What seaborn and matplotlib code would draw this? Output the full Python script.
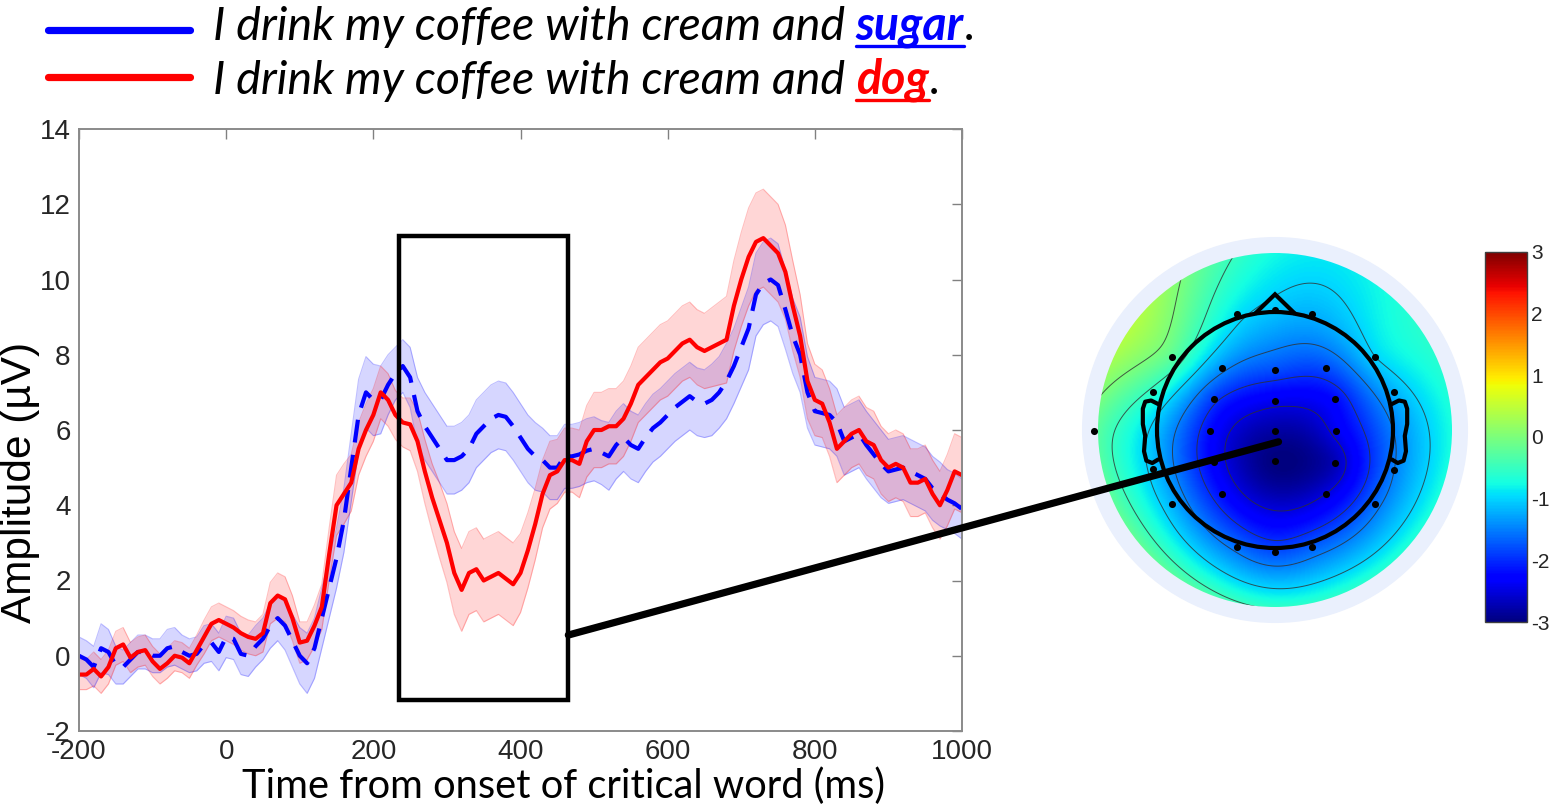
import numpy as np
import pandas as pd
import matplotlib
matplotlib.use("Agg")
import matplotlib.pyplot as plt
import seaborn as sns
from matplotlib.patches import Rectangle, Circle, Polygon, ConnectionPatch
from matplotlib.lines import Line2D

# ---------------------------------------------------------------- data
time_ms = list(range(-200, 1001, 10))

# grand-average ERP, congruent ending ("sugar")
sugar_mean = [
    0.0, -0.1, -0.3, 0.2, 0.1, -0.25, -0.3, -0.1, 0.1, 0.1,
    0.0, 0.0, 0.2, 0.25, 0.1, 0.0, 0.05, 0.3, 0.35, 0.1,
    0.5, 0.45, 0.05, 0.0, 0.25, 0.45, 0.8, 1.0, 0.8, 0.4,
    0.0, -0.2, 0.2, 1.0, 1.8, 2.6, 3.6, 5.0, 6.4, 7.0,
    6.8, 6.8, 7.2, 7.5, 7.7, 7.4, 6.5, 6.1, 5.8, 5.5,
    5.2, 5.2, 5.3, 5.5, 5.9, 6.1, 6.3, 6.4, 6.35, 6.1,
    5.8, 5.5, 5.3, 5.2, 5.0, 5.0, 5.3, 5.3, 5.35, 5.45,
    5.5, 5.4, 5.3, 5.6, 5.8, 5.6, 5.5, 5.8, 6.05, 6.2,
    6.4, 6.6, 6.75, 6.9, 6.75, 6.7, 6.8, 7.0, 7.3, 7.7,
    8.2, 8.7, 9.6, 9.9, 10.0, 9.85, 9.2, 8.5, 8.0, 7.0,
    6.5, 6.45, 6.4, 6.2, 5.7, 5.8, 5.9, 5.6, 5.35, 5.1,
    4.9, 4.95, 5.0, 4.9, 4.8, 4.7, 4.45, 4.3, 4.15, 4.05,
    3.9,
]
sugar_sem = [
    0.5, 0.5, 0.55, 0.65, 0.6, 0.5, 0.45, 0.45, 0.45, 0.45,
    0.45, 0.45, 0.5, 0.5, 0.45, 0.45, 0.45, 0.5, 0.5, 0.5,
    0.55, 0.55, 0.55, 0.55, 0.55, 0.55, 0.6, 0.6, 0.65, 0.7,
    0.75, 0.8, 0.8, 0.8, 0.8, 0.8, 0.85, 0.9, 0.95, 0.95,
    0.95, 0.9, 0.8, 0.7, 0.7, 0.8, 0.9, 0.9, 0.9, 0.9,
    0.9, 0.9, 0.9, 0.9, 0.9, 0.9, 0.9, 0.9, 0.9, 0.9,
    0.9, 0.9, 0.9, 0.85, 0.85, 0.85, 0.85, 0.85, 0.85, 0.85,
    0.85, 0.85, 0.9, 0.9, 0.9, 0.9, 0.9, 0.9, 0.9, 0.9,
    0.9, 0.9, 0.9, 0.9, 0.9, 0.9, 0.95, 0.95, 1.0, 1.0,
    1.05, 1.1, 1.1, 1.1, 1.1, 1.1, 1.05, 1.0, 1.0, 0.95,
    0.9, 0.9, 0.9, 0.9, 0.9, 0.9, 0.9, 0.9, 0.9, 0.9,
    0.85, 0.85, 0.85, 0.85, 0.85, 0.85, 0.85, 0.85, 0.8, 0.8,
    0.8,
]

# grand-average ERP, anomalous ending ("dog")
dog_mean = [
    -0.5, -0.5, -0.35, -0.55, -0.3, 0.2, 0.3, -0.05, 0.1, 0.15,
    -0.15, -0.35, -0.2, 0.0, -0.05, -0.2, 0.15, 0.5, 0.85, 0.95,
    0.85, 0.75, 0.6, 0.5, 0.45, 0.6, 1.4, 1.6, 1.5, 1.0,
    0.35, 0.4, 0.8, 1.3, 2.7, 4.0, 4.3, 4.6, 5.5, 6.0,
    6.4, 7.0, 6.8, 6.4, 6.2, 6.15, 5.7, 4.9, 4.2, 3.6,
    3.0, 2.2, 1.75, 2.2, 2.3, 2.0, 2.1, 2.2, 2.05, 1.9,
    2.2, 2.8, 3.5, 4.3, 4.8, 4.9, 5.2, 5.2, 5.1, 5.7,
    6.0, 6.0, 6.1, 6.1, 6.3, 6.7, 7.2, 7.4, 7.6, 7.8,
    7.9, 8.1, 8.3, 8.4, 8.2, 8.1, 8.2, 8.3, 8.4, 9.3,
    10.0, 10.6, 11.0, 11.1, 10.9, 10.7, 10.2, 9.3, 8.5, 7.3,
    6.8, 6.7, 6.2, 5.5, 5.7, 5.9, 6.0, 5.7, 5.6, 5.2,
    5.0, 5.1, 5.0, 4.6, 4.6, 4.7, 4.3, 4.0, 4.4, 4.9,
    4.8,
]
dog_sem = [
    0.4, 0.4, 0.45, 0.45, 0.45, 0.45, 0.45, 0.4, 0.4, 0.4,
    0.4, 0.4, 0.4, 0.4, 0.4, 0.4, 0.4, 0.45, 0.45, 0.45,
    0.45, 0.45, 0.45, 0.45, 0.45, 0.5, 0.55, 0.6, 0.6, 0.6,
    0.55, 0.5, 0.55, 0.6, 0.7, 0.8, 0.8, 0.75, 0.7, 0.7,
    0.7, 0.7, 0.7, 0.65, 0.65, 0.7, 0.8, 0.85, 0.9, 1.0,
    1.05, 1.1, 1.1, 1.1, 1.1, 1.1, 1.1, 1.1, 1.1, 1.1,
    1.05, 1.0, 0.95, 0.9, 0.9, 0.85, 0.85, 0.85, 0.9, 0.95,
    1.0, 1.0, 1.0, 1.0, 1.0, 1.0, 1.0, 1.0, 1.0, 1.0,
    1.0, 1.0, 1.0, 1.0, 1.0, 1.0, 1.05, 1.1, 1.15, 1.2,
    1.25, 1.3, 1.3, 1.3, 1.3, 1.3, 1.25, 1.2, 1.1, 1.0,
    0.95, 0.9, 0.9, 0.9, 0.9, 0.9, 0.9, 0.9, 0.9, 0.9,
    0.9, 0.9, 0.9, 0.9, 0.9, 0.9, 0.9, 0.9, 0.95, 1.0,
    1.0,
]

sentence_stem = "I drink my coffee with cream and "
endings = ["sugar", "dog"]
ending_colors = {"sugar": "#0000FF", "dog": "#FF0000"}

x_ticks = [-200, 0, 200, 400, 600, 800, 1000]
y_ticks = [-2, 0, 2, 4, 6, 8, 10, 12, 14]
x_label = "Time from onset of critical word (ms)"
y_label = "Amplitude (\u00b5V)"

# analysis window (ms, \u00b5V) that the scalp map summarises
window_ms = [235, 465]
window_uv = [-1.17, 11.15]

# scalp map: electrode positions (head radius = 1) and dog - sugar difference (\u00b5V)
electrode_x = [-0.325, 0.0, 0.31, -0.87, 0.85, -0.45, 0.0, 0.43, -1.03, 1.01,
               -0.52, 0.0, 0.51, -1.53, -0.55, 0.0, 0.52, -0.52, 0.0, 0.51,
               -1.03, 1.01, -0.45, 0.43, -0.87, 0.85, -0.325, 0.0, 0.31]
electrode_y = [0.986, 1.014, 0.986, 0.62, 0.62, 0.525, 0.506, 0.525, 0.32, 0.32,
               0.265, 0.246, 0.265, -0.01, -0.01, -0.01, -0.01, -0.27, -0.265, -0.277,
               -0.33, -0.34, -0.54, -0.54, -0.63, -0.63, -0.99, -1.03, -0.99]
electrode_diff = [-0.9, -1.1, -1.2, -0.25, -1.0, -1.4, -1.8, -1.8, -0.6, -1.2,
                  -1.9, -2.4, -2.2, -0.2, -2.2, -2.8, -2.4, -2.3, -3.0, -2.7,
                  -1.1, -1.5, -2.2, -2.5, -1.2, -1.6, -1.6, -1.8, -1.7]
cbar_ticks = [-3, -2, -1, 0, 1, 2, 3]

# ---------------------------------------------------------------- style
sns.set_style("white")
plt.rcParams["font.family"] = ["Liberation Sans", "DejaVu Sans"]
plt.rcParams["axes.unicode_minus"] = False
W, H = 1555, 807
fig = plt.figure(figsize=(W / 100, H / 100), dpi=100)

# ---------------------------------------------------------------- ERP panel
ax = fig.add_axes([79 / W, 1 - 731 / H, 883 / W, 602 / H])

n = len(time_ms)
erp = pd.DataFrame({
    "time": time_ms * 2,
    "amplitude": sugar_mean + dog_mean,
    "ending": ["sugar"] * n + ["dog"] * n,
})

t = np.array(time_ms)
for mean, sem, key in [(sugar_mean, sugar_sem, "sugar"), (dog_mean, dog_sem, "dog")]:
    m, s = np.array(mean), np.array(sem)
    c = ending_colors[key]
    ax.fill_between(t, m - s, m + s, facecolor=c, alpha=0.16, linewidth=0)
    ax.plot(t, m - s, color=c, alpha=0.25, lw=0.8)
    ax.plot(t, m + s, color=c, alpha=0.25, lw=0.8)

sns.lineplot(data=erp, x="time", y="amplitude", hue="ending", style="ending",
             hue_order=endings, style_order=endings, palette=ending_colors,
             dashes={"sugar": (5.5, 3.0), "dog": ""}, linewidth=3.0,
             estimator=None, legend=False, ax=ax)

ax.set_xlim(x_ticks[0], x_ticks[-1])
ax.set_ylim(y_ticks[0], y_ticks[-1])
ax.set_xticks(x_ticks)
ax.set_yticks(y_ticks)
ax.set_xlabel("")
ax.set_ylabel("")
ax.tick_params(direction="in", length=7, width=1.0, color="#808080",
               top=True, right=True, labelsize=20, labelcolor="#262626", pad=6)
for sp in ax.spines.values():
    sp.set_visible(True)
    sp.set_color("#8a8a8a")
    sp.set_linewidth(1.4)

ax.add_patch(Rectangle((window_ms[0], window_uv[0]), window_ms[1] - window_ms[0],
                       window_uv[1] - window_uv[0], fill=False, ec="black",
                       lw=3.2, zorder=6, clip_on=False))

fig.text(563 / W, 1 - 786 / H, x_label, fontsize=28.7, family="Lato",
         ha="center", va="center", color="black")
fig.text(20 / W, 1 - 482 / H, y_label, fontsize=30.5, rotation=90,
         ha="center", va="center", color="black")

# ---------------------------------------------------------------- scalp map
tax = fig.add_axes([1075 / W, 1 - 630 / H, 400 / W, 400 / H])
lim = 200 / 118
tax.set_xlim(-lim, lim)
tax.set_ylim(-lim, lim)
tax.set_aspect("equal")
tax.axis("off")

ex, ey, ev = np.array(electrode_x), np.array(electrode_y), np.array(electrode_diff)
pts = ex + 1j * ey


def green(d):
    with np.errstate(divide="ignore", invalid="ignore"):
        g = d ** 2 * (np.log(d) - 1.0)
    return np.where(d > 0, g, 0.0)


weights = np.linalg.solve(green(np.abs(pts[:, None] - pts[None, :])), ev)
g = np.linspace(-1.55, 1.55, 311)
GX, GY = np.meshgrid(g, g)
Z = green(np.abs((GX + 1j * GY)[..., None] - pts)) @ weights

tax.add_patch(Circle((0, 0), 1.63, color="#EAF0FD", zorder=0))
disc = Circle((0, 0), 1.5, transform=tax.transData)
im = tax.imshow(Z, extent=[g[0], g[-1], g[0], g[-1]], origin="lower",
                cmap="jet", vmin=-3, vmax=3, interpolation="bilinear", zorder=1)
im.set_clip_path(disc)
cs = tax.contour(GX, GY, Z, levels=[-2.5, -2.0, -1.5, -1.0, -0.5, 0.0, 0.5],
                 colors="#303030", linewidths=0.7, linestyles="solid",
                 alpha=0.8, zorder=2)
cs.set_clip_path(Circle((0, 0), 1.5, transform=tax.transData))

# head outline, nose and ears
tax.add_patch(Circle((0, 0), 1.0, fill=False, ec="black", lw=3, zorder=3))
tax.add_patch(Polygon([(-0.17, 0.985), (0, 1.15), (0.17, 0.985)], closed=False,
                      fill=False, ec="black", lw=3, zorder=3))
ear_x = np.array([-0.99, -1.05, -1.10, -1.12, -1.12, -1.10, -1.11, -1.09, -1.04, -0.99])
ear_y = np.array([0.22, 0.25, 0.24, 0.18, 0.05, -0.05, -0.18, -0.26, -0.28, -0.25])
for sgn in (1, -1):
    tax.plot(sgn * ear_x, ear_y, color="black", lw=3, zorder=3, solid_joinstyle="round")
tax.scatter(ex, ey, s=26, color="black", zorder=4, linewidths=0)

cax = fig.add_axes([1485 / W, 1 - 622 / H, 42 / W, 370 / H])
cb = fig.colorbar(im, cax=cax, ticks=cbar_ticks)
cb.outline.set_edgecolor("#404040")
cb.outline.set_linewidth(1.0)
cax.tick_params(labelsize=15, direction="in", length=4, color="#404040", pad=3)

# connector from the window to the scalp map
fig.add_artist(ConnectionPatch(xyA=(window_ms[1], 0.55), coordsA=ax.transData,
                               xyB=(0.03, -0.1), coordsB=tax.transData,
                               color="black", lw=5.2, zorder=10))

# ---------------------------------------------------------------- sentence key
renderer = fig.canvas.get_renderer()
txt_kw = dict(fontsize=33.5, family="Lato", style="italic", va="baseline")
for word, line_y, base_y in [("sugar", 30, 40), ("dog", 77, 94)]:
    col = ending_colors[word]
    fig.add_artist(Line2D([48 / W, 190 / W], [1 - line_y / H] * 2, color=col, lw=5.2))
    yb = 1 - base_y / H
    t1 = fig.text(213 / W, yb, sentence_stem.rstrip(), color="black", **txt_kw)
    sp_a = fig.text(0, 0, "a a", **txt_kw)
    sp_b = fig.text(0, 0, "aa", **txt_kw)
    space = sp_a.get_window_extent(renderer).width - sp_b.get_window_extent(renderer).width
    sp_a.remove()
    sp_b.remove()
    x1 = t1.get_window_extent(renderer).x1 + space
    t2 = fig.text(x1 / W, yb, word, color=col, weight="bold", **txt_kw)
    bb = t2.get_window_extent(renderer)
    fig.add_artist(Line2D([bb.x0 / W, bb.x1 / W], [1 - (base_y + 6) / H] * 2,
                          color=col, lw=2.4))
    fig.text((bb.x1 + 1) / W, yb, ".", color="black", **txt_kw)

fig.savefig("out.png", dpi=100)
